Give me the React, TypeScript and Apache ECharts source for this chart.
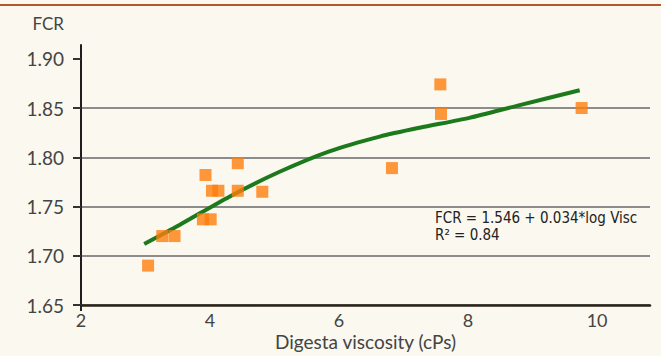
import React, { useEffect, useRef } from "react";
import * as echarts from "echarts";

const pointsX = [3.04, 3.26, 3.45, 3.89, 4.01, 3.93, 4.03, 4.13, 4.43, 4.43, 4.81, 6.82, 7.57, 7.58, 9.76];
const pointsY = [1.69, 1.72, 1.72, 1.737, 1.737, 1.782, 1.766, 1.766, 1.794, 1.766, 1.765, 1.789, 1.874, 1.844, 1.85];

const fitX = [2.98, 3.52, 4.3, 5.07, 5.85, 6.63, 7.25, 8.02, 8.8, 9.73];
const fitY = [1.712, 1.731, 1.76, 1.785, 1.806, 1.821, 1.83, 1.84, 1.853, 1.868];

const yTicks = [1.65, 1.7, 1.75, 1.8, 1.85, 1.9];
const xTicks = [2, 4, 6, 8, 10];

const yName = "FCR";
const xName = "Digesta viscosity (cPs)";
const equationLine1 = "FCR = 1.546 + 0.034*log Visc";
const equationLine2 = "R² = 0.84";

export default function App() {
  const ref = useRef<HTMLDivElement>(null);
  useEffect(() => {
    document.body.style.margin = "0";
    if (!ref.current) return;
    const chart = echarts.init(ref.current, null, { renderer: "svg" });
    const labelFont = "Lato, 'Open Sans', sans-serif";
    const eqFont = "'DejaVu Sans Condensed', 'Liberation Sans Narrow', sans-serif";
    chart.setOption({
      animation: false,
      backgroundColor: "#fbf8ef",
      grid: { left: 81, right: 11, top: 45, bottom: 51, outerBoundsMode: "none", containLabel: false },
      xAxis: {
        type: "value",
        min: 2,
        max: 10.82,
        interval: 2,
        name: xName,
        nameLocation: "middle",
        nameGap: 26,
        nameMoveOverlap: false,
        nameTextStyle: { fontFamily: labelFont, fontSize: 19, lineHeight: 20, color: "#444" },
        axisLine: { show: true, onZero: false, lineStyle: { color: "#2a2318", width: 2.5 } },
        axisTick: { show: true, customValues: [2], length: 6, lineStyle: { color: "#222", width: 2 } },
        axisLabel: {
          customValues: xTicks,
          margin: 6,
          fontFamily: labelFont,
          fontSize: 18,
          lineHeight: 17,
          color: "#444",
        },
        splitLine: { show: false },
      },
      yAxis: {
        type: "value",
        min: 1.65,
        max: 1.914,
        interval: 0.05,
        name: yName,
        nameLocation: "end",
        nameGap: 13,
        nameMoveOverlap: false,
        nameTextStyle: {
          fontFamily: labelFont,
          fontSize: 17,
          color: "#444",
          align: "right",
          padding: [0, 17, 0, 0],
        },
        axisLine: { show: true, onZero: false, lineStyle: { color: "#1e1e1e", width: 2 } },
        axisTick: { show: true, customValues: yTicks, length: 8, lineStyle: { color: "#333", width: 2 } },
        axisLabel: {
          customValues: yTicks,
          margin: 17,
          fontFamily: labelFont,
          fontSize: 19,
          color: "#444",
          formatter: (v: number) => v.toFixed(2),
        },
        splitLine: {
          show: true,
          showMaxLine: false,
          lineStyle: { color: "#8c8c8c", width: 2 },
        },
      },
      graphic: [
        {
          type: "line",
          shape: { x1: 0, y1: 5, x2: 661, y2: 5 },
          style: { stroke: "#b5562b", lineWidth: 2 },
        },
        {
          type: "text",
          x: 435,
          y: 218,
          style: {
            text: equationLine1,
            fontFamily: eqFont,
            fontSize: 15,
            fill: "#222",
            verticalAlign: "middle",
          },
        },
        {
          type: "text",
          x: 435,
          y: 235,
          style: {
            text: equationLine2,
            fontFamily: eqFont,
            fontSize: 15,
            fill: "#222",
            verticalAlign: "middle",
          },
        },
      ],
      series: [
        {
          type: "line",
          data: fitX.map((x, i) => [x, fitY[i]]),
          smooth: 0.25,
          showSymbol: false,
          lineStyle: { color: "#1c7a1c", width: 4 },
          z: 2,
        },
        {
          type: "scatter",
          data: pointsX.map((x, i) => [x, pointsY[i]]),
          symbol: "rect",
          symbolSize: 12,
          itemStyle: { color: "#ff7d0c" },
          z: 3,
        },
      ],
    });
    return () => chart.dispose();
  }, []);
  return (
    <div
      ref={ref}
      style={{ position: "fixed", left: 0, top: 0, width: 661, height: 356 }}
    />
  );
}
